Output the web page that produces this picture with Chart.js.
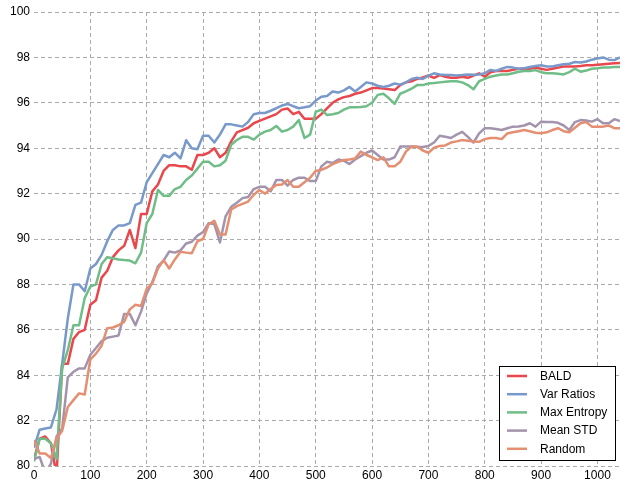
<!DOCTYPE html>
<html>
<head>
<meta charset="utf-8">
<script src="https://cdn.jsdelivr.net/npm/chart.js@4.4.1/dist/chart.umd.min.js"></script>
<style>
  html, body { margin: 0; padding: 0; background: #fff; }
  canvas { display: block; }
</style>
</head>
<body>
<canvas id="myChart" width="627" height="482"></canvas>
<script>
// acquired images (x axis)
let acquired = [
    0, 10, 20, 30, 40, 50, 60, 70, 80, 90,
    100, 110, 120, 130, 140, 150, 160, 170, 180, 190,
    200, 210, 220, 230, 240, 250, 260, 270, 280, 290,
    300, 310, 320, 330, 340, 350, 360, 370, 380, 390,
    400, 410, 420, 430, 440, 450, 460, 470, 480, 490,
    500, 510, 520, 530, 540, 550, 560, 570, 580, 590,
    600, 610, 620, 630, 640, 650, 660, 670, 680, 690,
    700, 710, 720, 730, 740, 750, 760, 770, 780, 790,
    800, 810, 820, 830, 840, 850, 860, 870, 880, 890,
    900, 910, 920, 930, 940, 950, 960, 970, 980, 990,
    1000, 1010, 1020, 1030, 1040
];

let bald = [
    80.3, 81.2, 81.3, 81.0, 79.6, 84.5, 84.5, 85.6, 85.9, 86.0,
    87.1, 87.3, 88.3, 88.6, 89.2, 89.5, 89.7, 90.4, 89.6, 91.1,
    91.1, 92.1, 92.4, 93.0, 93.25, 93.25, 93.2, 93.2, 93.05, 93.7,
    93.7, 93.8, 94.0, 93.6, 93.8, 94.3, 94.7, 94.8, 94.9, 95.1,
    95.2, 95.3, 95.4, 95.5, 95.7, 95.75, 95.5, 95.6, 95.3, 95.3,
    95.3, 95.5, 95.75, 96.0, 96.15, 96.25, 96.3, 96.4, 96.45, 96.55,
    96.65, 96.65, 96.63, 96.6, 96.56, 96.78, 96.9, 96.95, 97.05, 97.12,
    97.2, 97.1, 97.22, 97.15, 97.1, 97.1, 97.15, 97.1, 97.2, 97.3,
    97.15, 97.35, 97.4, 97.4, 97.4, 97.45, 97.5, 97.5, 97.5, 97.55,
    97.5, 97.45, 97.5, 97.55, 97.6, 97.6, 97.6, 97.62, 97.65, 97.65,
    97.68, 97.7, 97.72, 97.74, 97.75
];

let varRatios = [
    80.8, 81.6, 81.65, 81.7, 82.5, 84.5, 86.5, 88.0, 88.0, 87.7,
    88.7, 88.9, 89.3, 89.9, 90.4, 90.6, 90.6, 90.7, 91.5, 91.6,
    92.5, 92.9, 93.3, 93.7, 93.6, 93.8, 93.55, 94.35, 94.0, 93.95,
    94.55, 94.55, 94.25, 94.6, 95.05, 95.05, 95.0, 94.95, 95.15, 95.5,
    95.55, 95.55, 95.65, 95.76, 95.88, 95.95, 95.85, 95.76, 95.8, 95.85,
    96.1, 96.27, 96.3, 96.5, 96.45, 96.55, 96.7, 96.5, 96.7, 96.9,
    96.85, 96.75, 96.7, 96.75, 96.85, 96.8, 96.9, 97.05, 97.1, 97.05,
    97.2, 97.3, 97.25, 97.22, 97.22, 97.2, 97.22, 97.25, 97.24, 97.25,
    97.3, 97.45, 97.4, 97.5, 97.58, 97.55, 97.5, 97.52, 97.58, 97.62,
    97.65, 97.6, 97.6, 97.65, 97.7, 97.72, 97.8, 97.78, 97.82, 97.9,
    97.95, 98.0, 97.9, 97.88, 98.0
];

let maxEntropy = [
    80.2, 81.2, 81.2, 81.0, 80.3, 84.3, 85.1, 86.2, 86.2, 87.4,
    87.9, 88.0, 88.9, 89.2, 89.15, 89.1, 89.07, 89.05, 88.93, 89.4,
    90.7, 91.1, 92.16, 91.9, 91.9, 92.2, 92.3, 92.6, 92.8, 93.1,
    93.4, 93.4, 93.2, 93.25, 93.45, 94.15, 94.36, 94.5, 94.5, 94.38,
    94.6, 94.73, 94.8, 94.98, 94.73, 94.8, 94.95, 95.24, 94.45, 94.6,
    95.6, 95.7, 95.46, 95.5, 95.55, 95.7, 95.8, 95.8, 95.82, 95.85,
    96.0, 96.35, 96.4, 96.2, 95.95, 96.4, 96.5, 96.62, 96.78, 96.78,
    96.85, 96.87, 96.9, 96.93, 96.95, 96.95, 96.9, 96.78, 96.6, 96.95,
    97.05, 97.15, 97.2, 97.25, 97.25, 97.3, 97.37, 97.4, 97.4, 97.44,
    97.35, 97.3, 97.3, 97.28, 97.25, 97.35, 97.5, 97.37, 97.42, 97.5,
    97.52, 97.55, 97.56, 97.58, 97.58
];

let meanStd = [
    80.3, 80.4, 79.7, 80.1, 81.3, 81.65, 83.9, 84.15, 84.3, 84.3,
    84.9, 85.2, 85.5, 85.65, 85.7, 85.75, 86.7, 86.7, 86.2, 86.8,
    87.6, 88.1, 88.8, 89.05, 89.45, 89.4, 89.5, 89.8, 89.88, 90.15,
    90.3, 90.7, 90.65, 89.85, 91.0, 91.42, 91.6, 91.8, 91.85, 92.2,
    92.3, 92.3, 92.1, 92.6, 92.6, 92.35, 92.6, 92.7, 92.7, 92.55,
    92.55, 93.2, 93.4, 93.35, 93.5, 93.45, 93.3, 93.5, 93.65, 93.8,
    93.9, 93.7, 93.5, 93.5, 93.6, 94.07, 94.07, 94.07, 94.05, 94.05,
    94.1, 94.25, 94.55, 94.5, 94.45, 94.6, 94.72, 94.5, 94.25, 94.65,
    94.88, 94.88, 94.85, 94.8, 94.88, 94.95, 94.96, 95.0, 95.1, 94.95,
    95.17, 95.15, 95.15, 95.12, 95.0, 94.8, 95.15, 95.24, 95.22, 95.17,
    95.28, 95.1, 95.1, 95.28, 95.2
];

let random = [
    81.15, 80.55, 80.55, 80.35, 81.2, 81.55, 82.6, 82.9, 83.2, 83.15,
    84.7, 84.95, 85.3, 86.07, 86.1, 86.2, 86.35, 86.9, 87.1, 87.05,
    87.8, 88.05, 88.7, 89.07, 88.7, 89.1, 89.44, 89.4, 89.37, 89.9,
    90.0, 90.65, 90.8, 90.2, 90.2, 91.3, 91.45, 91.55, 91.65, 91.95,
    92.16, 92.0, 92.2, 92.38, 92.4, 92.6, 92.3, 92.3, 92.5, 92.7,
    93.0, 93.05, 93.15, 93.3, 93.4, 93.48, 93.5, 93.55, 93.85, 93.7,
    93.6, 93.48, 93.6, 93.2, 93.2, 93.4, 93.85, 94.07, 94.07, 93.9,
    93.8, 94.02, 94.1, 94.12, 94.25, 94.3, 94.36, 94.33, 94.3, 94.28,
    94.4, 94.45, 94.45, 94.4, 94.65, 94.7, 94.75, 94.8, 94.75, 94.68,
    94.66, 94.7, 94.8, 94.88, 94.75, 94.7, 94.9, 95.1, 95.15, 94.95,
    94.95, 94.95, 95.0, 94.88, 94.88
];

let seriesNames = ['BALD', 'Var Ratios', 'Max Entropy', 'Mean STD', 'Random'];
let seriesValues = [bald, varRatios, maxEntropy, meanStd, random];
let lineColors = ['#e9474c', '#7899c9', '#6fbd87', '#a394ae', '#e58f72'];

let xTickStep = 100;
let yTickStep = 2;

function toPoints(values){
    return values.map((v, i) => ({x: acquired[i], y: v}));
}

let datasets = seriesNames.map((name, i) => ({
    label: name,
    data: toPoints(seriesValues[i]),
    borderColor: lineColors[i],
    backgroundColor: lineColors[i],
    borderWidth: 2.5,
    pointRadius: 0,
    tension: 0,
    borderJoinStyle: 'round',
    order: seriesNames.length - i
}));

// legend box drawn inside the plot, bottom right
const boxLegend = {
    id: 'boxLegend',
    afterDraw(chart){
        let ctx = chart.ctx;
        let area = chart.chartArea;
        let w = 116, h = 94;
        let x0 = area.right - 5 - w;
        let y0 = area.bottom - 6 - h;
        ctx.save();
        ctx.fillStyle = '#fff';
        ctx.fillRect(x0, y0, w, h);
        ctx.strokeStyle = '#000';
        ctx.lineWidth = 1;
        ctx.strokeRect(Math.round(x0) + 0.5, Math.round(y0) + 0.5, w, h);
        ctx.font = '12px "Liberation Sans", Arial, sans-serif';
        ctx.textBaseline = 'middle';
        chart.data.datasets.forEach((ds, i) => {
            let y = y0 + 10 + i * 18.2;
            ctx.strokeStyle = ds.borderColor;
            ctx.lineWidth = 2.5;
            ctx.beginPath();
            ctx.moveTo(x0 + 8, y);
            ctx.lineTo(x0 + 28, y);
            ctx.stroke();
            ctx.fillStyle = '#000';
            ctx.fillText(ds.label, x0 + 41, y + 0.5);
        });
        ctx.restore();
    }
};

let gridColor = '#ababab';
let tickFont = {family: '"Liberation Sans", Arial, sans-serif', size: 12};

new Chart('myChart', {
    type: 'line',
    data: { datasets: datasets },
    plugins: [boxLegend],
    options: {
        responsive: false,
        animation: false,
        devicePixelRatio: 1,
        layout: { padding: {top: 12, right: 7, bottom: 0, left: 0} },
        plugins: {
            legend: {display: false},
            tooltip: {enabled: false}
        },
        scales: {
            x: {
                type: 'linear',
                min: 0,
                max: 1040,
                border: {display: false, dash: [4, 3]},
                grid: {
                    drawTicks: false,
                    color: c => (c.tick && c.tick.value === 0) ? 'rgba(0,0,0,0)' : gridColor
                },
                ticks: {
                    stepSize: xTickStep,
                    includeBounds: false,
                    color: '#000',
                    font: tickFont,
                    padding: 2,
                    maxRotation: 0,
                    callback: v => String(v)
                },
                afterFit: scale => { scale.height = 16; }
            },
            y: {
                min: 80,
                max: 100,
                border: {display: false, dash: [4, 3]},
                grid: { drawTicks: false, color: gridColor },
                ticks: {
                    stepSize: yTickStep,
                    color: '#000',
                    font: tickFont,
                    padding: 4,
                    callback: v => String(v)
                },
                afterFit: scale => { scale.width = 34; }
            }
        }
    }
});
</script>
</body>
</html>
